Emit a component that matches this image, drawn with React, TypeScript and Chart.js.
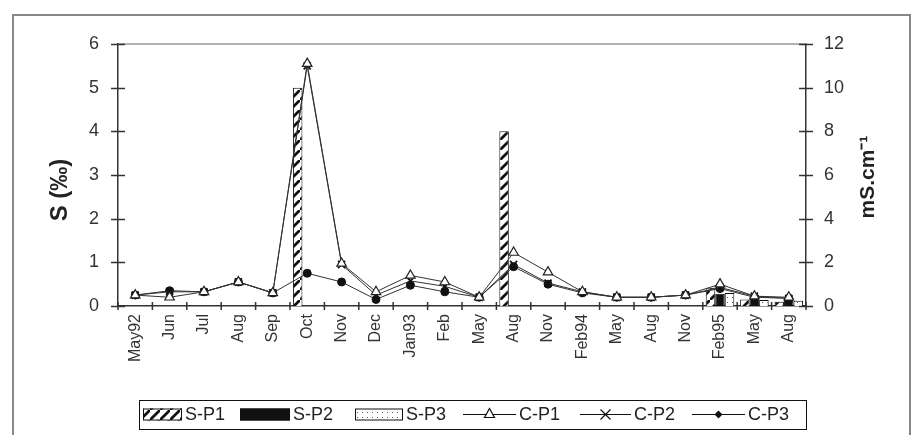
import React, { useEffect, useRef } from "react";
import { Chart, registerables } from "chart.js";

Chart.register(...registerables);

const categories = ["May92", "Jun", "Jul", "Aug", "Sep", "Oct", "Nov", "Dec", "Jan93", "Feb", "May", "Aug", "Nov", "Feb94", "May", "Aug", "Nov", "Feb95", "May", "Aug"];

// Salinity (left axis, ‰)
const sP1 = [null, null, null, null, null, 5, null, null, null, null, null, 4, null, null, null, null, null, 0.42, 0.15, 0.1];
const sP2 = [null, null, null, null, null, null, null, null, null, null, null, null, null, null, null, null, null, 0.28, 0.25, 0.2];
const sP3 = [null, null, null, null, null, null, null, null, null, null, null, null, null, null, null, null, null, 0.3, 0.14, 0.12];

// Conductivity (right axis, mS.cm-1)
const cP1 = [0.5, 0.4, 0.65, 1.1, 0.6, 11.1, 1.95, 0.65, 1.4, 1.1, 0.4, 2.45, 1.55, 0.65, 0.4, 0.4, 0.5, 1.0, 0.45, 0.4];
const cP2 = [0.5, 0.65, 0.65, 1.1, 0.6, 11.0, 1.9, 0.5, 1.15, 0.9, 0.4, 1.9, 1.05, 0.65, 0.4, 0.4, 0.5, 0.85, 0.45, 0.35];
const cP3 = [0.5, 0.7, 0.65, 1.1, 0.6, 1.5, 1.1, 0.3, 0.95, 0.65, 0.4, 1.8, 1.0, 0.6, 0.4, 0.4, 0.5, 0.8, 0.4, 0.35];

const leftMax = 6;
const leftStep = 1;
const rightMax = 12;
const rightStep = 2;

const leftTitle = "S (‰)";
const rightTitle = "mS.cm⁻¹";
const legendLabels = ["S-P1", "S-P2", "S-P3", "C-P1", "C-P2", "C-P3"];

const FONT = "'Liberation Sans', Arial, sans-serif";
const INK = "#222";

function makeHatch(): CanvasPattern | string {
  const s = 10;
  const c = document.createElement("canvas");
  c.width = s;
  c.height = s;
  const g = c.getContext("2d");
  if (!g) return "#fff";
  g.fillStyle = "#fff";
  g.fillRect(0, 0, s, s);
  g.strokeStyle = "#111";
  g.lineWidth = 2.8;
  g.beginPath();
  g.moveTo(-2, s + 2);
  g.lineTo(s + 2, -2);
  g.moveTo(-2 - s, s + 2 - s);
  g.lineTo(s + 2 - s, -2 - s);
  g.moveTo(-2 + s, s + 2 + s);
  g.lineTo(s + 2 + s, -2 + s);
  g.stroke();
  return g.createPattern(c, "repeat") || "#fff";
}

function makeDots(): CanvasPattern | string {
  const c = document.createElement("canvas");
  c.width = 5;
  c.height = 5;
  const g = c.getContext("2d");
  if (!g) return "#fff";
  g.fillStyle = "#fff";
  g.fillRect(0, 0, 5, 5);
  g.fillStyle = "#555";
  g.fillRect(2, 2, 1, 1);
  return g.createPattern(c, "repeat") || "#fff";
}

export default function App() {
  const ref = useRef<HTMLCanvasElement | null>(null);

  useEffect(() => {
    if (!ref.current) return;
    const hatch = makeHatch();
    const dots = makeDots();

    const framePlugin = {
      id: "framePlugin",
      beforeDraw(chart: any) {
        const ctx = chart.ctx;
        ctx.save();
        ctx.fillStyle = "#fff";
        ctx.fillRect(0, 0, chart.width, chart.height);
        ctx.strokeStyle = "#888";
        ctx.lineWidth = 2;
        ctx.strokeRect(13, 15, 897, 440);
        ctx.restore();
      },
      beforeDatasetsDraw(chart: any) {
        const { ctx, chartArea } = chart;
        ctx.save();
        ctx.strokeStyle = "#999";
        ctx.lineWidth = 1.5;
        ctx.beginPath();
        ctx.moveTo(chartArea.left, chartArea.top);
        ctx.lineTo(chartArea.right, chartArea.top);
        ctx.stroke();
        ctx.restore();
      },
      afterDraw(chart: any) {
        const { ctx, chartArea } = chart;
        const xs = chart.scales.x;
        const yl = chart.scales.y;
        const yr = chart.scales.y1;
        ctx.save();
        ctx.strokeStyle = "#333";
        ctx.lineWidth = 1.5;
        ctx.beginPath();
        yl.ticks.forEach((_t: any, i: number) => {
          const py = Math.round(yl.getPixelForTick(i)) + 0.5;
          ctx.moveTo(chartArea.left - 7, py);
          ctx.lineTo(chartArea.left + 7, py);
        });
        yr.ticks.forEach((_t: any, i: number) => {
          const py = Math.round(yr.getPixelForTick(i)) + 0.5;
          ctx.moveTo(chartArea.right - 7, py);
          ctx.lineTo(chartArea.right + 7, py);
        });
        const n = categories.length;
        for (let i = 0; i <= n; i++) {
          const px = xs.left + (i * xs.width) / n;
          ctx.moveTo(px, chartArea.bottom - 4);
          ctx.lineTo(px, chartArea.bottom + 4);
        }
        ctx.stroke();

        // axis titles
        ctx.fillStyle = INK;
        ctx.textAlign = "center";
        ctx.textBaseline = "middle";
        ctx.font = `bold 24px ${FONT}`;
        ctx.save();
        ctx.translate(chartArea.left - 58, chartArea.top + 146);
        ctx.rotate(-Math.PI / 2);
        ctx.fillText(leftTitle, 0, 0);
        ctx.restore();
        ctx.font = `bold 21px ${FONT}`;
        ctx.save();
        ctx.translate(chartArea.right + 62, chartArea.top + 133);
        ctx.rotate(-Math.PI / 2);
        ctx.fillText(rightTitle, 0, 0);
        ctx.restore();

        // legend
        const bx = 139, by = 400, bw = 667, bh = 29;
        ctx.strokeStyle = "#111";
        ctx.lineWidth = 1;
        ctx.strokeRect(bx + 0.5, by + 0.5, bw, bh);
        const cy = by + bh / 2;
        ctx.font = `18px ${FONT}`;
        ctx.textAlign = "left";
        ctx.textBaseline = "middle";
        const swatches: [number, number, any][] = [
          [143, 39, hatch],
          [240, 50, "#111"],
          [355, 48, dots],
        ];
        swatches.forEach(([x, w, fill], i) => {
          ctx.fillStyle = fill;
          ctx.fillRect(x, cy - 6, w, 12);
          ctx.strokeStyle = "#111";
          ctx.lineWidth = 1;
          ctx.strokeRect(x + 0.5, cy - 6 + 0.5, w - 1, 11);
          ctx.fillStyle = INK;
          ctx.fillText(legendLabels[i], x + w + 3, cy + 1);
        });
        const lines: [number, number, string][] = [
          [463, 53, "tri"],
          [580, 51, "x"],
          [692, 53, "dot"],
        ];
        lines.forEach(([x, w, kind], i) => {
          ctx.strokeStyle = "#111";
          ctx.lineWidth = 1.2;
          ctx.beginPath();
          ctx.moveTo(x, cy);
          ctx.lineTo(x + w, cy);
          ctx.stroke();
          const mx = x + w / 2;
          if (kind === "tri") {
            ctx.fillStyle = "#fff";
            ctx.beginPath();
            ctx.moveTo(mx, cy - 6);
            ctx.lineTo(mx + 5, cy + 3);
            ctx.lineTo(mx - 5, cy + 3);
            ctx.closePath();
            ctx.fill();
            ctx.stroke();
          } else if (kind === "x") {
            ctx.beginPath();
            ctx.moveTo(mx - 5, cy - 5);
            ctx.lineTo(mx + 5, cy + 5);
            ctx.moveTo(mx - 5, cy + 5);
            ctx.lineTo(mx + 5, cy - 5);
            ctx.stroke();
          } else {
            ctx.fillStyle = "#111";
            ctx.beginPath();
            ctx.moveTo(mx, cy - 4);
            ctx.lineTo(mx + 4, cy);
            ctx.lineTo(mx, cy + 4);
            ctx.lineTo(mx - 4, cy);
            ctx.closePath();
            ctx.fill();
          }
          ctx.fillStyle = INK;
          ctx.fillText(legendLabels[i + 3], x + w + 3, cy + 1);
        });
        ctx.restore();
      },
    };

    const barCommon = {
      type: "bar" as const,
      yAxisID: "y",
      borderColor: "#111",
      borderWidth: 1,
      categoryPercentage: 0.83,
      barPercentage: 1.0,
      order: 2,
    };
    const lineCommon = {
      type: "line" as const,
      yAxisID: "y1",
      borderColor: "#333",
      borderWidth: 1,
      tension: 0,
      order: 1,
    };

    const tickFont = { family: FONT, size: 18 };

    const chart = new Chart(ref.current, {
      type: "bar",
      data: {
        labels: categories,
        datasets: [
          { ...barCommon, label: "S-P1", data: sP1, backgroundColor: hatch as any },
          { ...barCommon, label: "S-P2", data: sP2, backgroundColor: "#111" },
          { ...barCommon, label: "S-P3", data: sP3, backgroundColor: dots as any },
          { ...lineCommon, label: "C-P1", data: cP1, pointStyle: "triangle", pointRadius: 5.5, pointBackgroundColor: "#fff", pointBorderColor: "#222", pointBorderWidth: 1.2 },
          { ...lineCommon, label: "C-P2", data: cP2, pointStyle: "crossRot", pointRadius: 5, pointBorderColor: "#111", pointBorderWidth: 1.8 },
          { ...lineCommon, label: "C-P3", data: cP3, pointStyle: "circle", pointRadius: 4, pointBackgroundColor: "#111", pointBorderColor: "#111", pointBorderWidth: 1 },
        ] as any,
      },
      options: {
        responsive: false,
        animation: false,
        devicePixelRatio: 1,
        layout: { padding: { left: 12, right: 0, top: 44, bottom: 0 } },
        plugins: { legend: { display: false }, tooltip: { enabled: false } },
        scales: {
          x: {
            type: "category",
            offset: true,
            grid: { display: false, drawTicks: false, offset: true },
            border: { display: true, color: "#333", width: 1.5 },
            ticks: {
              autoSkip: false,
              minRotation: 90,
              maxRotation: 90,
              padding: 8,
              color: "#333",
              font: { family: FONT, size: 16 },
            },
            afterFit: (s: any) => {
              s.height = 129;
            },
          },
          y: {
            position: "left",
            min: 0,
            max: leftMax,
            grid: { display: false, drawTicks: false },
            border: { display: true, color: "#333", width: 1.5 },
            ticks: { stepSize: leftStep, padding: 19, color: "#333", font: tickFont },
            afterFit: (s: any) => {
              s.width = 106;
            },
          },
          y1: {
            position: "right",
            min: 0,
            max: rightMax,
            grid: { display: false, drawTicks: false },
            border: { display: true, color: "#333", width: 1.5 },
            ticks: { stepSize: rightStep, padding: 18, color: "#333", font: tickFont },
            afterFit: (s: any) => {
              s.width = 114;
            },
          },
        },
      } as any,
      plugins: [framePlugin],
    });

    return () => chart.destroy();
  }, []);

  return (
    <div style={{ position: "fixed", left: 0, top: 0, width: 920, height: 435, background: "#fff" }}>
      <canvas ref={ref} width={920} height={435} style={{ display: "block", width: 920, height: 435 }} />
    </div>
  );
}
